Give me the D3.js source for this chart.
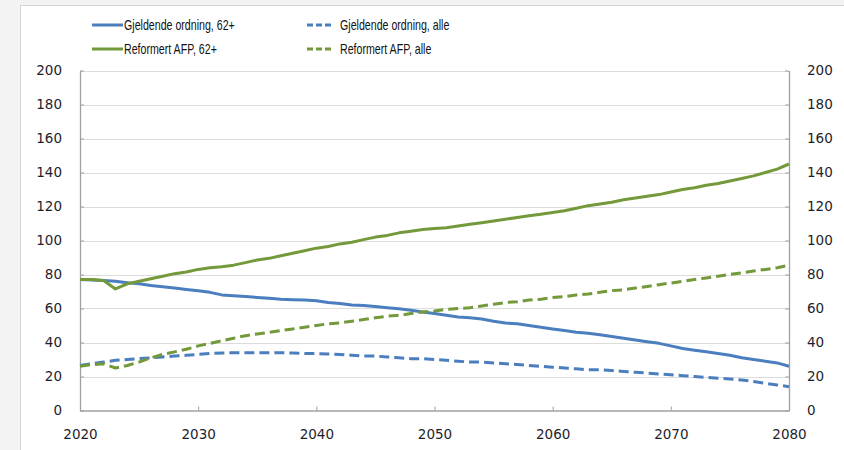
<!DOCTYPE html>
<html>
<head>
<meta charset="utf-8">
<script src="https://cdn.jsdelivr.net/npm/d3@7"></script>
<style>
  body { margin: 0; background: #f3f3f3; }
  svg { display: block; }
  .tick text { font-family: "DejaVu Sans", Verdana, sans-serif; font-size: 13.5px; fill: #1e1e2a; }
  .legend text { font-family: "Liberation Sans", Arial, sans-serif; font-size: 14px; fill: #111; }
</style>
</head>
<body>
<svg id="main" width="844" height="450"></svg>
<script>
const years = d3.range(2020, 2081);
const yTicks = [0, 20, 40, 60, 80, 100, 120, 140, 160, 180, 200];
const xTicks = [2020, 2030, 2040, 2050, 2060, 2070, 2080];

const gjeldende62 = [77, 76.8, 76.5, 76, 75.2, 74.5, 73.5, 72.8, 72, 71.2,
  70.5, 69.5, 68, 67.5, 67, 66.5, 66, 65.5, 65.2, 65,
  64.5, 63.5, 63, 62, 61.8, 61.2, 60.5, 59.8, 59, 58,
  57, 56, 55, 54.5, 53.8, 52.5, 51.5, 51, 50, 49,
  48, 47, 46, 45.5, 44.5, 43.5, 42.5, 41.5, 40.5, 39.5,
  38, 36.5, 35.5, 34.5, 33.5, 32.5, 31, 30, 29, 28, 26];

const reformert62 = [77, 77, 76.5, 71.5, 74.5, 76, 77.5, 79, 80.5, 81.5,
  83, 84, 84.5, 85.5, 87, 88.5, 89.5, 91, 92.5, 94,
  95.5, 96.5, 98, 99, 100.5, 102, 103, 104.5, 105.5, 106.5,
  107, 107.5, 108.5, 109.5, 110.5, 111.5, 112.5, 113.5, 114.5, 115.5,
  116.5, 117.5, 119, 120.5, 121.5, 122.5, 124, 125, 126, 127,
  128.5, 130, 131, 132.5, 133.5, 135, 136.5, 138, 140, 142, 145];

const gjeldendeAlle = [26.5, 27.5, 28.5, 29.5, 30, 30.5, 31, 31.5, 32, 32.5,
  33, 33.5, 33.8, 34, 34, 34, 34, 34, 33.8, 33.5,
  33.5, 33.3, 33, 32.5, 32, 32, 31.5, 31, 30.5, 30.5,
  30, 29.5, 29, 28.5, 28.5, 28, 27.5, 27, 26.5, 26,
  25.5, 25, 24.5, 24, 24, 23.5, 23, 22.5, 22, 21.5,
  21, 20.5, 20, 19.5, 19, 18.5, 18, 17, 16, 15, 14];

const reformertAlle = [26, 27, 27.5, 25, 26.5, 28.5, 31, 33, 34.5, 36,
  38, 39.5, 41, 42.5, 44, 45, 46, 47, 48, 49,
  50, 51, 51.5, 52.5, 53.5, 54.5, 55.5, 56, 57, 58,
  58.5, 59.5, 60, 60.5, 61.5, 62.5, 63.5, 64, 65, 65.5,
  66.5, 67, 68, 68.5, 69.5, 70.5, 71, 72, 73, 74,
  75, 76, 77, 78, 79, 80, 81, 82, 83, 84, 85.5];

const series = [
  { name: "Gjeldende ordning, 62+", values: gjeldende62, color: "#4a7ebf", dash: null },
  { name: "Gjeldende ordning, alle", values: gjeldendeAlle, color: "#4a7ebf", dash: "10,5" },
  { name: "Reformert AFP, 62+", values: reformert62, color: "#73993a", dash: null },
  { name: "Reformert AFP, alle", values: reformertAlle, color: "#73993a", dash: "10,5" },
];

const svg = d3.select("#main");
svg.append("rect").attr("x", 20.5).attr("y", 5.5).attr("width", 830).attr("height", 450)
  .attr("fill", "#fff").attr("stroke", "#d4d4d4");

const x = d3.scaleLinear().domain([2020, 2080]).range([80, 789]);
const y = d3.scaleLinear().domain([0, 200]).range([410.5, 70.5]);

// gridlines
svg.append("g").selectAll("line").data(yTicks.slice(1)).join("line")
  .attr("x1", x(2020)).attr("x2", x(2080))
  .attr("y1", d => Math.round(y(d)) + 0.5).attr("y2", d => Math.round(y(d)) + 0.5)
  .attr("stroke", "#dcdcdc").attr("stroke-width", 1.2);

function styleAxis(g) {
  g.select(".domain").attr("stroke", "#a0a0a0").attr("stroke-width", 1.3);
  g.selectAll(".tick line").attr("stroke", "#a0a0a0");
}

svg.append("g").attr("transform", `translate(${x(2020)},0)`)
  .call(d3.axisLeft(y).tickValues(yTicks).tickSize(-4).tickSizeOuter(0).tickPadding(18))
  .call(styleAxis);
svg.append("g").attr("transform", `translate(${x(2080)},0)`)
  .call(d3.axisRight(y).tickValues(yTicks).tickSize(-4).tickSizeOuter(0).tickPadding(18))
  .call(styleAxis);
svg.append("g").attr("transform", `translate(0,${y(0)})`)
  .call(d3.axisBottom(x).tickValues(xTicks).tickFormat(d3.format("d")).tickSize(-4).tickSizeOuter(0).tickPadding(19))
  .call(styleAxis);

const line = d3.line().x((d, i) => x(years[i])).y(d => y(d));

svg.append("g").selectAll("path").data(series).join("path")
  .attr("d", d => line(d.values))
  .attr("fill", "none")
  .attr("stroke", d => d.color)
  .attr("stroke-width", 3)
  .attr("stroke-dasharray", d => d.dash)
  .attr("stroke-linejoin", "round");

// legend (narrow Calibri-like text: squeeze horizontally)
const legendPos = [
  { lx: 92, ly: 25, len: 31 },
  { lx: 307, ly: 25, len: 25 },
  { lx: 92, ly: 49, len: 31 },
  { lx: 307, ly: 49, len: 25 },
];
const lg = svg.append("g").attr("class", "legend");
series.forEach((s, i) => {
  const p = legendPos[i];
  lg.append("line").attr("x1", p.lx).attr("x2", p.lx + p.len).attr("y1", p.ly).attr("y2", p.ly)
    .attr("stroke", s.color).attr("stroke-width", 3)
    .attr("stroke-dasharray", s.dash ? "6,3" : null);
  const tx = s.dash ? p.lx + 33 : p.lx + 32;
  lg.append("text")
    .attr("transform", `translate(${tx},${p.ly + 5}) scale(0.76,1)`)
    .text(s.name);
});
</script>
</body>
</html>
